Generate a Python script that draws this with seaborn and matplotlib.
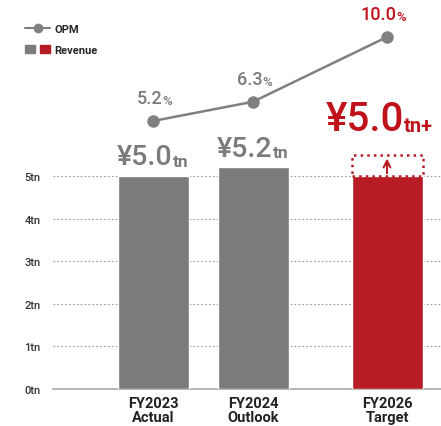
import numpy as np
import pandas as pd
import matplotlib
matplotlib.use("Agg")
import matplotlib.pyplot as plt
import seaborn as sns
from matplotlib.lines import Line2D
from matplotlib.patches import Patch
from matplotlib.legend_handler import HandlerTuple

sns.set_style("white")
plt.rcParams["font.family"] = ["Roboto", "DejaVu Sans"]

# data
periods = ["FY2023\nActual", "FY2024\nOutlook", "FY2026\nTarget"]
xpos = [0.0, 1.0, 2.34]
revenue = [5.0, 5.2, 5.0]          # tn yen
revenue_plus = [0.0, 0.0, 0.5]     # "+" headroom on target
opm = [5.2, 6.3, 10.0]             # %
rev_labels = ["¥5.0", "¥5.2", "¥5.0"]
rev_units = ["tn", "tn", "tn+"]
opm_labels = ["5.2", "6.3", "10.0"]
yticks = [0, 1, 2, 3, 4, 5]
ytick_labels = [f"{v}tn" for v in yticks]

GRAY = "#7b7b7b"
RED = "#b71c25"
RED_TXT = "#c0121b"
LINE = "#808080"

fig = plt.figure(figsize=(4.41, 4.27), dpi=100)
ax = fig.add_axes([53 / 441, 37 / 427, 388 / 441, 390 / 427])

df = pd.DataFrame({"x": xpos, "rev": revenue, "period": periods})
sns.barplot(data=df, x="x", y="rev", hue="period", native_scale=True,
            palette=[GRAY, GRAY, RED], width=0.71, dodge=False,
            legend=False, ax=ax, zorder=3, saturation=1)

ax.set_xlim(-1.0, 2.88)
ax.set_ylim(0, 9.15)
ax.set_yticks(yticks)
ax.set_yticklabels(ytick_labels, fontsize=8, fontweight="medium", color="#333333")
ax.set_xticks(xpos)
ax.set_xticklabels(periods, fontsize=10.5, fontweight="bold", color="#222222",
                   linespacing=1.0)
ax.tick_params(axis="y", length=0, pad=9)
ax.tick_params(axis="x", length=0, pad=5)
ax.set_xlabel("")
ax.set_ylabel("")
for s in ["top", "right", "left"]:
    ax.spines[s].set_visible(False)
ax.spines["bottom"].set_color("#aaaaaa")
ax.spines["bottom"].set_linewidth(1.2)
for v in yticks[1:]:
    ax.axhline(v, color="#999999", lw=0.8, ls=(0, (1.5, 2)), zorder=1)

# target headroom box + arrow
for x, r, p in zip(xpos, revenue, revenue_plus):
    if p > 0:
        ax.bar(x, p, bottom=r, width=0.71, fill=False, edgecolor=RED,
               linestyle=":", linewidth=1.8, zorder=4)
        ax.annotate("", xy=(x, r + p * 0.95), xytext=(x, r),
                    arrowprops=dict(arrowstyle="->", color=RED, lw=1.5,
                                    mutation_scale=12), zorder=5)

# revenue labels
for i, (x, r, p) in enumerate(zip(xpos, revenue, revenue_plus)):
    top = r + p
    if p > 0:
        ax.annotate(rev_labels[i], (x, top), xytext=(12, 12), textcoords="offset points",
                    ha="right", va="bottom", fontsize=29, fontweight="medium", color=RED_TXT)
        ax.annotate(rev_units[i], (x, top), xytext=(12, 14), textcoords="offset points",
                    ha="left", va="bottom", fontsize=14.5, fontweight="bold", color=RED_TXT)
    else:
        ax.annotate(rev_labels[i], (x, top), xytext=(14, 4), textcoords="offset points",
                    ha="right", va="bottom", fontsize=20.5, fontweight="medium", color=GRAY)
        ax.annotate(rev_units[i], (x, top), xytext=(14, 5), textcoords="offset points",
                    ha="left", va="bottom", fontsize=12.5, fontweight="bold", color=GRAY)

# OPM line on twin axis
ax2 = ax.twinx()
ax2.set_ylim(-10.11, 12.17)
ax2.axis("off")
sns.lineplot(x=xpos, y=opm, ax=ax2, color=LINE, lw=1.8, marker="o",
             markersize=9, markeredgewidth=0, markerfacecolor=LINE, zorder=6)
for i, (x, v) in enumerate(zip(xpos, opm)):
    c = RED_TXT if i == len(opm) - 1 else GRAY
    ax2.annotate(opm_labels[i], (x, v), xytext=(7, 10), textcoords="offset points",
                 ha="right", va="bottom", fontsize=13, fontweight="medium", color=c)
    ax2.annotate("%", (x, v), xytext=(7, 10), textcoords="offset points",
                 ha="left", va="bottom", fontsize=9.5, fontweight="medium", color=c)

# legend
h_opm = Line2D([], [], color=LINE, lw=1.5, marker="o", markersize=6)
h_rev = (Patch(color=GRAY), Patch(color=RED))
fig.legend([h_opm, h_rev], ["OPM", "Revenue"],
           handler_map={tuple: HandlerTuple(ndivide=None, pad=0.4)},
           loc="upper left", bbox_to_anchor=(0.035, 0.965), frameon=False,
           prop={"size": 8, "weight": "bold"}, handlelength=2.2,
           handletextpad=0.4, labelspacing=1.0)

fig.savefig("out.png", dpi=100)
